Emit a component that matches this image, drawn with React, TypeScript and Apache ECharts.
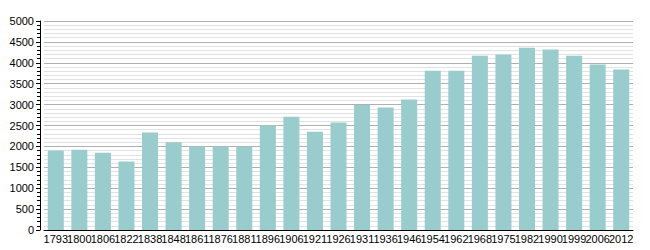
import React, { useEffect, useRef } from "react";
import * as echarts from "echarts";

const years = ["1793","1800","1806","1822","1838","1848","1861","1876","1881","1896","1906","1921","1926","1931","1936","1946","1954","1962","1968","1975","1982","1990","1999","2006","2012"];
const population = [1900,1920,1850,1640,2330,2100,2000,2000,1990,2500,2710,2350,2570,2990,2930,3120,3810,3810,4170,4200,4360,4320,4170,3960,3840];
const yTicks = { min: 0, max: 5000, interval: 500 };

export default function App() {
  const ref = useRef<HTMLDivElement>(null);
  useEffect(() => {
    const chart = echarts.init(ref.current!, null, { renderer: "svg" });
    chart.setOption({
      animation: false,
      grid: { left: 44, right: 17, top: 21, bottom: 20 },
      xAxis: {
        type: "category",
        data: years,
        axisLine: { lineStyle: { color: "#000", width: 1 } },
        axisTick: { show: false },
        axisLabel: { interval: 0, fontSize: 11, color: "#000", margin: 3, fontFamily: "Liberation Sans, Arial, sans-serif" },
      },
      yAxis: {
        type: "value",
        min: yTicks.min,
        max: yTicks.max,
        interval: yTicks.interval,
        offset: 4,
        axisLine: { show: true, lineStyle: { color: "#000", width: 1 } },
        axisTick: { show: true, length: 4, lineStyle: { color: "#000" } },
        minorTick: { show: true, splitNumber: 5, length: 3, lineStyle: { color: "#000" } },
        splitLine: { show: true, lineStyle: { color: "#b0b0b0", width: 1 } },
        minorSplitLine: { show: true, lineStyle: { color: "#e2e2e2", width: 1 } },
        axisLabel: {
          fontSize: 11,
          color: "#000",
          margin: 6,
          fontFamily: "Liberation Sans, Arial, sans-serif",
          formatter: (v: number) => String(v),
        },
      },
      series: [
        {
          type: "bar",
          data: population,
          barCategoryGap: "32%",
          itemStyle: { color: "#99cccc" },
        },
      ],
    });
    return () => chart.dispose();
  }, []);
  return <div ref={ref} style={{ width: 650, height: 250, position: "absolute", left: 0, top: 0 }} />;
}
